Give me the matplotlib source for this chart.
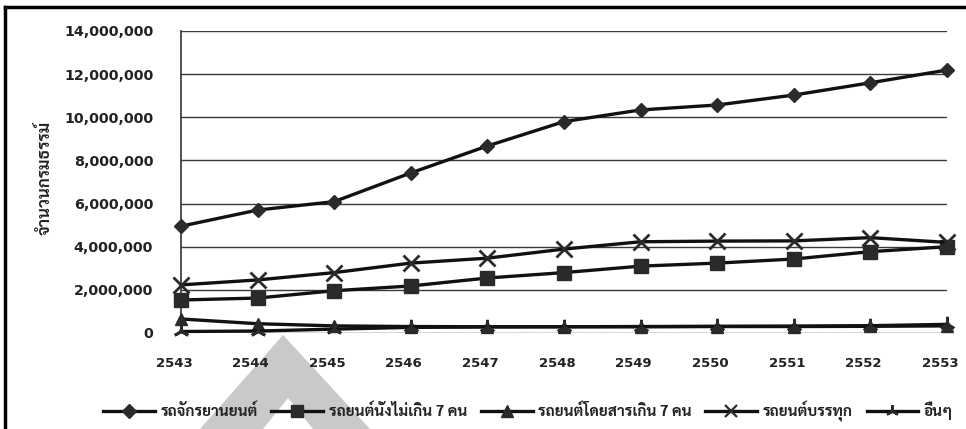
import matplotlib
matplotlib.use("Agg")
import matplotlib.pyplot as plt
from matplotlib import font_manager
from matplotlib.patches import Polygon
from matplotlib.lines import Line2D
from matplotlib.ticker import FuncFormatter
from matplotlib.transforms import ScaledTranslation

# ---- data ----
years = [2543, 2544, 2545, 2546, 2547, 2548, 2549, 2550, 2551, 2552, 2553]
motorcycle = [4950000, 5700000, 6090000, 7420000, 8670000, 9800000, 10340000, 10570000, 11030000, 11600000, 12190000]
car_7 = [1530000, 1620000, 1960000, 2180000, 2550000, 2800000, 3100000, 3240000, 3430000, 3770000, 4000000]
bus_7 = [650000, 430000, 330000, 300000, 290000, 290000, 290000, 300000, 300000, 310000, 330000]
truck = [2230000, 2460000, 2800000, 3240000, 3470000, 3890000, 4230000, 4260000, 4270000, 4420000, 4200000]
others = [70000, 90000, 180000, 260000, 280000, 290000, 300000, 310000, 320000, 340000, 400000]
series_labels = ["รถจักรยานยนต์", "รถยนต์นั่งไม่เกิน 7 คน", "รถยนต์โดยสารเกิน 7 คน", "รถยนต์บรรทุก", "อื่นๆ"]
y_label = "จำนวนกรมธรรม์"
y_ticks = [0, 2000000, 4000000, 6000000, 8000000, 10000000, 12000000, 14000000]

# ---- fonts ----
avail = {f.name for f in font_manager.fontManager.ttflist}
thai = None
for name in ["Sarabun", "Noto Sans Thai Looped", "Noto Sans Thai", "Tahoma", "Loma", "Garuda"]:
    if name in avail:
        thai = name
        break
thai_family = [thai, "DejaVu Sans"] if thai else ["DejaVu Sans"]

W, H = 966, 429
fig = plt.figure(figsize=(W / 100, H / 100), dpi=100)
ax_left, ax_right = 181, 947
ax_top, ax_bot = 31, 333
ax = fig.add_axes([ax_left / W, 1 - ax_bot / H, (ax_right - ax_left) / W, (ax_bot - ax_top) / H])
ax.patch.set_alpha(0)

# watermark chevron (behind)
def fp(x, y):
    return (x / W, 1 - y / H)
chev = Polygon([fp(200, 429), fp(283, 335), fp(370, 429), fp(313, 429), fp(288, 398), fp(263, 429)],
               closed=True, transform=fig.transFigure, facecolor="#c9c9c9", edgecolor="none", zorder=-5)
fig.patches.append(chev)

ax.set_xlim(years[0], years[-1])
ax.set_ylim(0, 14000000)
for yv in y_ticks:
    ax.axhline(yv, color="#3a3a3a", lw=1.0, zorder=1)

lc = "#111111"
mc = "#2a2a2a"
common = dict(color=lc, lw=2.4, clip_on=False, zorder=3, markeredgecolor=mc, markerfacecolor=mc)
ax.plot(years, motorcycle, marker="D", ms=7.5, **common)
ax.plot(years, car_7, marker="s", ms=9.5, **common)
ax.plot(years, bus_7, marker="^", ms=8, **common)
ax.plot(years, truck, marker="x", ms=11, mew=2.0, **common)
ax.plot(years, others, marker=(3, 2, 0), ms=11, mew=2.0, **common)

ax.set_xticks(years)
ax.set_xticklabels([str(y) for y in years])
ax.set_yticks(y_ticks)
ax.yaxis.set_major_formatter(FuncFormatter(lambda v, p: f"{int(v):,}"))
ax.tick_params(axis="both", length=0)
ax.tick_params(axis="y", pad=20, labelsize=10.3, labelcolor="#222222")
ax.tick_params(axis="x", pad=17, labelsize=9.5, labelcolor="#222222")
shift = ScaledTranslation(-7 / 100, 0, fig.dpi_scale_trans)
for lab in ax.get_xticklabels():
    lab.set_fontweight("bold")
    lab.set_transform(lab.get_transform() + shift)
for lab in ax.get_yticklabels():
    lab.set_fontweight("bold")
for s in ["top", "right", "bottom"]:
    ax.spines[s].set_visible(False)
ax.spines["left"].set_color("#333333")
ax.spines["left"].set_linestyle((0, (2, 1)))
ax.spines["left"].set_linewidth(1.2)

fig.text(45 / W, 1 - 178 / H, y_label, rotation=90, ha="center", va="center",
         fontsize=12, fontweight="bold", family=thai_family, color="#222222")

# legend
handles = [
    Line2D([], [], color=lc, lw=2.4, marker="D", ms=7, markerfacecolor=mc, markeredgecolor=mc),
    Line2D([], [], color=lc, lw=2.4, marker="s", ms=8.5, markerfacecolor=mc, markeredgecolor=mc),
    Line2D([], [], color=lc, lw=2.4, marker="^", ms=8, markerfacecolor=mc, markeredgecolor=mc),
    Line2D([], [], color=lc, lw=2.4, marker="x", ms=9, mew=1.6, markeredgecolor=mc),
    Line2D([], [], color=lc, lw=2.4, marker=(3, 2, 0), ms=9, mew=1.6, markeredgecolor=mc),
]
leg = fig.legend(handles, series_labels, loc="center", bbox_to_anchor=(528 / W, 1 - 411 / H),
                 ncol=5, frameon=False, handlelength=3.4, handletextpad=0.35, columnspacing=0.9,
                 prop=font_manager.FontProperties(family=thai_family, size=11, weight="bold"))
for t in leg.get_texts():
    t.set_color("#222222")

# scan border (top and left)
fig.add_artist(Line2D([5 / W, 1.0], [1 - 7 / H, 1 - 7 / H], transform=fig.transFigure, color="black", lw=2.5))
fig.add_artist(Line2D([5 / W, 5 / W], [0, 1 - 7 / H], transform=fig.transFigure, color="black", lw=2.5))

fig.savefig("out.png", dpi=100)
